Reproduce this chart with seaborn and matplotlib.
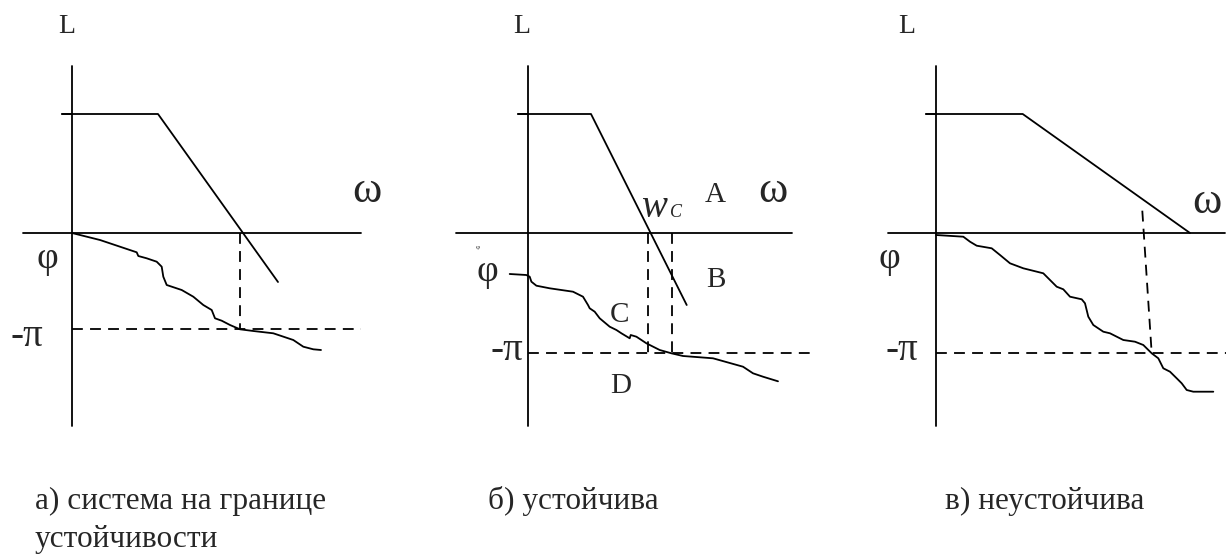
import numpy as np
import pandas as pd
import seaborn as sns
import matplotlib.pyplot as plt

sns.set_style("white")
plt.rcParams['font.family'] = ['Liberation Serif', 'DejaVu Serif']

# Panel origins (pixel position of the axis crossing) - all panels share the same scale
origins_x = [72, 528, 936]
origin_y = 233

# ---- panel a: system on the stability boundary ----
a_L_x = [-10, 86, 206]
a_L_y = [119, 119, -49]
a_phi_x = [0, 28, 64.7, 66.3, 74.7, 84.7, 89.7, 91.3, 94.7, 109.7, 121.3, 131.3, 139.7,
           143, 149.7, 158, 168, 181.3, 201.3, 221.3, 231.3, 241.3, 249]
a_phi_y = [0, -7, -19.3, -23, -25.3, -28.7, -33.7, -43.7, -52, -57, -63.7, -72, -77,
           -85.3, -87.7, -92, -96.3, -98, -100.3, -107, -113.7, -116.3, -117]
a_cross = [168]          # dashed drop from crossover frequency
a_pi = -96
a_axis_x = [-49, 289]
a_axis_y = [-193, 167]

# ---- panel b: stable ----
b_L_x = [-10, 63, 158.7]
b_L_y = [119, 119, -72]
b_phi_x = [-18.3, -1.7, 1.7, 3.4, 8.4, 21.7, 45, 55, 60, 61.7, 66.7, 71.7, 81.7, 88.4,
           93.4, 101.7, 102.7, 108.4, 118.4, 131.7, 143.4, 155, 185, 215, 225, 235, 250]
b_phi_y = [-41, -42, -43.7, -48.7, -52.7, -55.3, -58.7, -63.7, -72, -75.3, -78.7, -85.3,
           -93.7, -97, -100.3, -105.3, -102, -103.7, -110.3, -117, -120.3, -123, -125.3,
           -133.7, -140.3, -143.7, -148.3]
b_cross = [120, 144]
b_pi = -120
b_axis_x = [-72, 264]
b_axis_y = [-193, 167]

# ---- panel c: unstable ----
c_L_x = [-10, 86.7, 254]
c_L_y = [119, 119, 0]
c_phi_x = [0, 27.3, 34, 40.7, 55.7, 64, 74, 87.3, 107.3, 114, 120.7, 127.3, 134, 145.7,
           149, 152.3, 157.3, 167.3, 174, 187.3, 199, 207.3, 215.7, 222.3, 227.3, 234,
           240.7, 245.7, 250.7, 257.3, 277.3]
c_phi_y = [-2, -3.7, -8.7, -12.7, -15.3, -22, -30.3, -35.3, -40.3, -47, -53.7, -56.3,
           -63.7, -66.3, -70.3, -83.7, -92, -98.7, -100.3, -107, -108.7, -112, -120.3,
           -125.3, -135.3, -138.7, -145.3, -150.3, -157, -158.7, -158.7]
c_cross_x = [206.3, 215.7]
c_cross_y = [22.3, -120.3]
c_pi = -120
c_axis_x = [-48, 289]
c_axis_y = [-193, 167]

captions = [["а) система на границе", "устойчивости"], ["б) устойчива"], ["в) неустойчива"]]
caption_x = [35, 488, 945]

W, H = 1226, 555
fig = plt.figure(figsize=(W / 100, H / 100), dpi=100)

lw = 1.3
dash = (6, 4)


def make_axes(ox):
    ax = fig.add_axes([0, 0, 1, 1])
    ax.set_xlim(-ox, W - ox)
    ax.set_ylim(origin_y - H, origin_y)
    ax.axis('off')
    ax.patch.set_alpha(0)
    return ax


def draw_frame(ax, axis_x, axis_y, L_x, L_y, phi_x, phi_y, pi_level, pi_end):
    ax.plot(axis_x, [0, 0], color='black', lw=lw)
    ax.plot([0, 0], axis_y, color='black', lw=lw)
    ax.plot([-10, 0], [L_y[0], L_y[0]], color='black', lw=lw)
    sns.lineplot(x=L_x, y=L_y, ax=ax, color='black', lw=lw, sort=False)
    df = pd.DataFrame({'w': phi_x, 'phi': phi_y})
    sns.lineplot(data=df, x='w', y='phi', ax=ax, color='black', lw=lw, sort=False)
    ax.plot([0, pi_end], [pi_level, pi_level], color='black', lw=lw, dashes=dash)


def label(ax, x, y, s, size, **kw):
    ax.text(x, y, s, fontsize=size, ha='left', va='baseline', **kw)


# panel a
ax = make_axes(origins_x[0])
draw_frame(ax, a_axis_x, a_axis_y, a_L_x, a_L_y, a_phi_x, a_phi_y, a_pi, 289)
for xc in a_cross:
    ax.plot([xc, xc], [0, a_pi], color='black', lw=lw, dashes=dash)
label(ax, -14, 200, "L", 20)
label(ax, 280, 31, "ω", 32)
label(ax, -36, -35, "φ", 27)
label(ax, -62, -113, "-π", 28)

# panel b
ax = make_axes(origins_x[1])
draw_frame(ax, b_axis_x, b_axis_y, b_L_x, b_L_y, b_phi_x, b_phi_y, b_pi, 287)
for xc in b_cross:
    ax.plot([xc, xc], [0, b_pi], color='black', lw=lw, dashes=dash)
label(ax, -15, 200, "L", 20)
label(ax, 113, 16, "w", 28, style='italic')
label(ax, 142, 16, "C", 13, style='italic')
label(ax, 177, 31, "A", 21)
label(ax, 230, 31, "ω", 32)
label(ax, 178, -54, "B", 21)
label(ax, 82, -89, "C", 21)
label(ax, 82, -160, "D", 21)
label(ax, -52, -48, "φ", 27)
ax.text(-50, -15, "φ", fontsize=5, ha='center', va='center')
label(ax, -37, -127, "-π", 28)

# panel c
ax = make_axes(origins_x[2])
draw_frame(ax, c_axis_x, c_axis_y, c_L_x, c_L_y, c_phi_x, c_phi_y, c_pi, 290)
ax.plot(c_cross_x, c_cross_y, color='black', lw=lw, dashes=dash)
label(ax, -38, 200, "L", 20)
label(ax, 256, 20, "ω", 32)
label(ax, -58, -35, "φ", 27)
label(ax, -51, -127, "-π", 28)

for lines, cx in zip(captions, caption_x):
    for i, txt in enumerate(lines):
        fig.text(cx / W, 1 - (509 + 38 * i) / H, txt, fontsize=22.5,
                 ha='left', va='baseline')

fig.savefig("out.png", dpi=100)
